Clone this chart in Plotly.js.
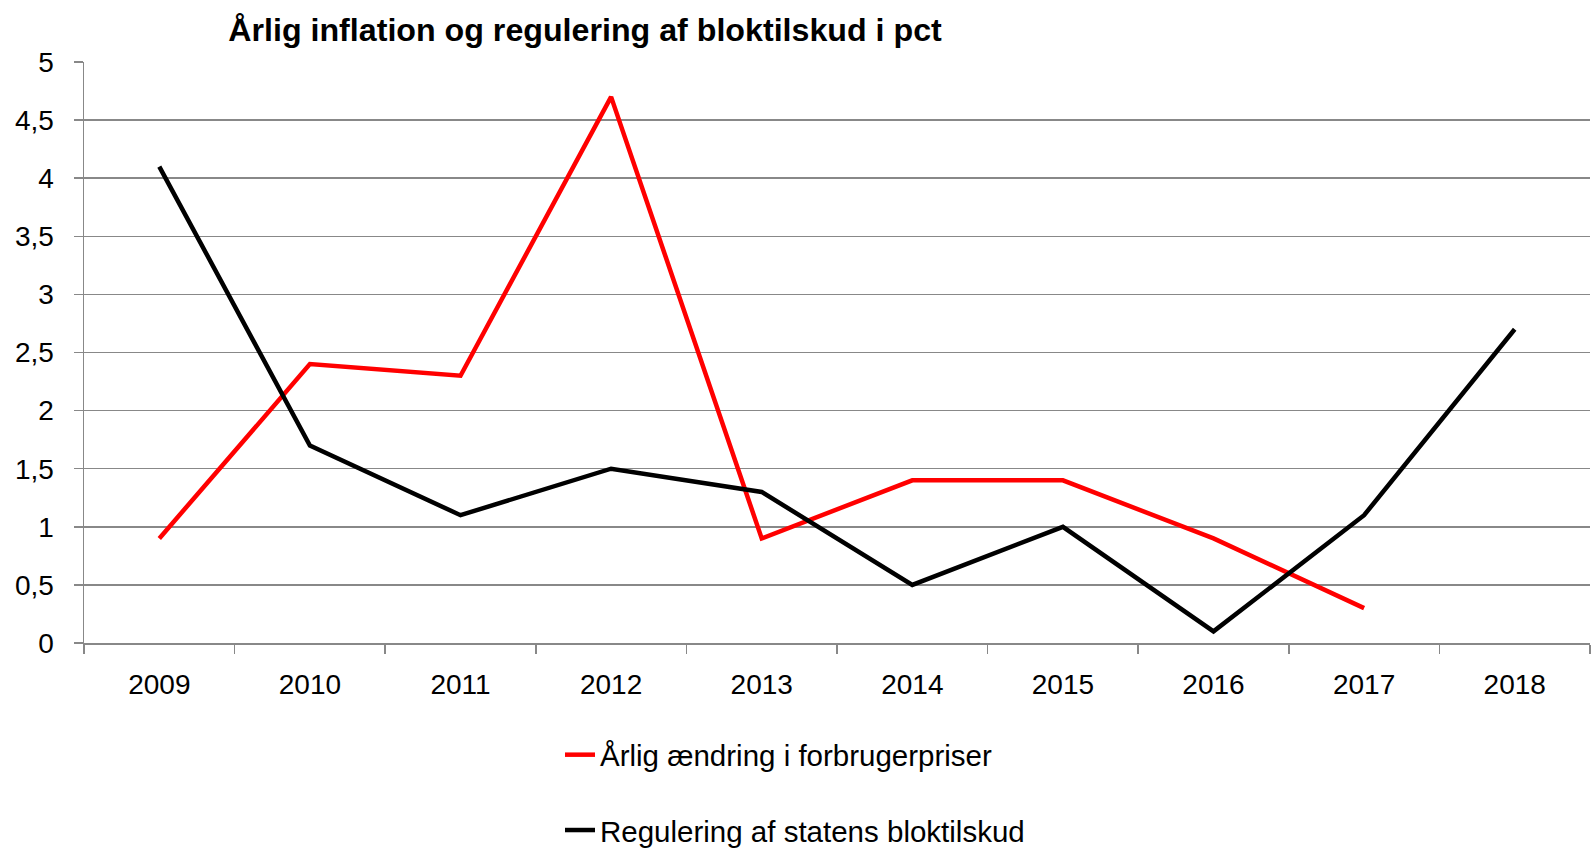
<!DOCTYPE html>
<html>
<head>
<meta charset="utf-8">
<script src="https://cdn.plot.ly/plotly-3.0.1.min.js"></script>
<style>html,body{margin:0;padding:0;background:#fff;}#chart{width:1591px;height:848px;}</style>
</head>
<body>
<div id="chart"></div>
<script>
var years = ['2009','2010','2011','2012','2013','2014','2015','2016','2017','2018'];
var inflation = [0.9, 2.4, 2.3, 4.7, 0.9, 1.4, 1.4, 0.9, 0.3, null];
var bloktilskud = [4.1, 1.7, 1.1, 1.5, 1.3, 0.5, 1.0, 0.1, 1.1, 2.7];
var yTickVals = [0, 0.5, 1, 1.5, 2, 2.5, 3, 3.5, 4, 4.5, 5];
var yTickText = ['0', '0,5', '1', '1,5', '2', '2,5', '3', '3,5', '4', '4,5', '5'];
var seriesNames = ['Årlig ændring i forbrugerpriser', 'Regulering af statens bloktilskud'];
var chartTitle = 'Årlig inflation og regulering af bloktilskud i pct';

var font = 'Liberation Sans, Arial, sans-serif';
var traces = [
  {x: years, y: inflation, type: 'scatter', mode: 'lines', name: seriesNames[0],
   legendgroup: 'a', line: {color: '#FF0000', width: 4.5}},
  {x: years, y: bloktilskud, type: 'scatter', mode: 'lines', name: seriesNames[1],
   legendgroup: 'b', line: {color: '#000000', width: 4.5}}
];
var layout = {
  width: 1591, height: 848,
  paper_bgcolor: '#fff', plot_bgcolor: '#fff',
  margin: {l: 84, r: 1, t: 62, b: 205, autoexpand: false},
  title: {text: '<b>' + chartTitle + '</b>', font: {family: font, size: 32.2, color: '#000'},
          x: 585/1591, xanchor: 'center', xref: 'container', y: 1 - 30/848, yanchor: 'middle', yref: 'container'},
  xaxis: {type: 'category', range: [-0.5, 9.5], tickson: 'boundaries', ticks: 'outside', ticklen: 9,
          tickcolor: '#888', tickwidth: 1.5, showline: true, linecolor: '#888', linewidth: 1.5,
          showgrid: false, zeroline: false, tickfont: {family: font, size: 28, color: '#000'},
          ticklabelstandoff: 16, fixedrange: true},
  yaxis: {range: [0, 5], tickvals: yTickVals, ticktext: yTickText, ticks: 'outside', ticklen: 9,
          tickcolor: '#888', tickwidth: 1.5, showline: true, linecolor: '#888', linewidth: 1.5,
          showgrid: true, gridcolor: '#888', gridwidth: 1.5, zeroline: false,
          tickfont: {family: font, size: 28, color: '#000'}, ticklabelstandoff: 14, fixedrange: true},
  showlegend: true,
  legend: {x: 560/1591, xref: 'container', xanchor: 'left', y: 1 - 729/848, yref: 'container', yanchor: 'top',
           traceorder: 'grouped', tracegroupgap: 34,
           font: {family: font, size: 29.5, color: '#000'}, bgcolor: 'rgba(0,0,0,0)'}
};
Plotly.newPlot('chart', traces, layout, {displayModeBar: false, staticPlot: true});
</script>
</body>
</html>
